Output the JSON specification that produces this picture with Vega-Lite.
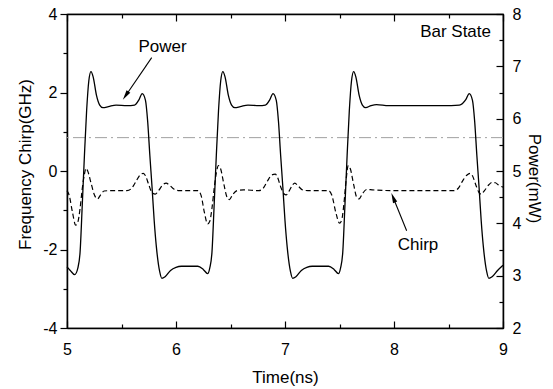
{
  "$schema": "https://vega.github.io/schema/vega-lite/v6.json",
  "width": 436,
  "height": 314,
  "autosize": {"type": "none"},
  "padding": {"left": 67, "top": 14, "right": 50, "bottom": 61},
  "background": "white",
  "config": {
    "view": {"stroke": "black", "strokeWidth": 1.2},
    "axis": {
      "domainColor": "black", "domainWidth": 1.5,
      "tickColor": "black", "tickWidth": 1.2,
      "labelFont": "Liberation Sans", "labelFontSize": 16, "labelColor": "black",
      "titleFont": "Liberation Sans", "titleFontSize": 17, "titleFontWeight": "normal", "titleColor": "black",
      "grid": false
    },
    "text": {"font": "Liberation Sans", "fontSize": 17, "color": "black"}
  },
  "datasets": {
    "power": [
      {"t": 5.00, "p": 3.17}, {"t": 5.03, "p": 3.10}, {"t": 5.07, "p": 3.02}, {"t": 5.10, "p": 3.15},
      {"t": 5.12, "p": 3.45}, {"t": 5.14, "p": 4.35}, {"t": 5.16, "p": 5.30}, {"t": 5.18, "p": 6.15},
      {"t": 5.20, "p": 6.72}, {"t": 5.22, "p": 6.90}, {"t": 5.24, "p": 6.80}, {"t": 5.27, "p": 6.45},
      {"t": 5.30, "p": 6.26}, {"t": 5.33, "p": 6.21}, {"t": 5.38, "p": 6.23}, {"t": 5.45, "p": 6.26},
      {"t": 5.55, "p": 6.25}, {"t": 5.62, "p": 6.26}, {"t": 5.66, "p": 6.36}, {"t": 5.69, "p": 6.48},
      {"t": 5.72, "p": 6.35}, {"t": 5.74, "p": 5.95}, {"t": 5.76, "p": 5.30}, {"t": 5.78, "p": 4.70},
      {"t": 5.80, "p": 4.05}, {"t": 5.82, "p": 3.55}, {"t": 5.85, "p": 3.08}, {"t": 5.87, "p": 2.95},
      {"t": 5.90, "p": 2.98}, {"t": 5.95, "p": 3.10}, {"t": 6.00, "p": 3.16}, {"t": 6.05, "p": 3.18},
      {"t": 6.20, "p": 3.18}, {"t": 6.25, "p": 3.12}, {"t": 6.29, "p": 3.04},
      {"t": 6.31, "p": 3.15}, {"t": 6.33, "p": 3.45}, {"t": 6.35, "p": 4.35}, {"t": 6.37, "p": 5.30},
      {"t": 6.39, "p": 6.15}, {"t": 6.41, "p": 6.72}, {"t": 6.43, "p": 6.90}, {"t": 6.45, "p": 6.80},
      {"t": 6.48, "p": 6.45}, {"t": 6.51, "p": 6.26}, {"t": 6.54, "p": 6.21}, {"t": 6.59, "p": 6.23},
      {"t": 6.66, "p": 6.26}, {"t": 6.76, "p": 6.25}, {"t": 6.82, "p": 6.26}, {"t": 6.86, "p": 6.36},
      {"t": 6.89, "p": 6.48}, {"t": 6.92, "p": 6.35}, {"t": 6.94, "p": 5.95}, {"t": 6.96, "p": 5.30},
      {"t": 6.98, "p": 4.70}, {"t": 7.00, "p": 4.05}, {"t": 7.02, "p": 3.55}, {"t": 7.05, "p": 3.08},
      {"t": 7.07, "p": 2.95}, {"t": 7.10, "p": 2.98}, {"t": 7.15, "p": 3.10}, {"t": 7.20, "p": 3.16},
      {"t": 7.25, "p": 3.18}, {"t": 7.40, "p": 3.18}, {"t": 7.45, "p": 3.12}, {"t": 7.49, "p": 3.04},
      {"t": 7.51, "p": 3.15}, {"t": 7.53, "p": 3.45}, {"t": 7.55, "p": 4.35}, {"t": 7.57, "p": 5.30},
      {"t": 7.59, "p": 6.15}, {"t": 7.61, "p": 6.72}, {"t": 7.63, "p": 6.90}, {"t": 7.65, "p": 6.80},
      {"t": 7.68, "p": 6.45}, {"t": 7.71, "p": 6.26}, {"t": 7.74, "p": 6.21}, {"t": 7.79, "p": 6.25},
      {"t": 7.84, "p": 6.27}, {"t": 7.95, "p": 6.25}, {"t": 8.20, "p": 6.25}, {"t": 8.45, "p": 6.25},
      {"t": 8.60, "p": 6.26}, {"t": 8.66, "p": 6.37}, {"t": 8.69, "p": 6.48}, {"t": 8.72, "p": 6.35},
      {"t": 8.74, "p": 5.95}, {"t": 8.76, "p": 5.30}, {"t": 8.78, "p": 4.70}, {"t": 8.80, "p": 4.05},
      {"t": 8.82, "p": 3.55}, {"t": 8.85, "p": 3.08}, {"t": 8.87, "p": 2.95}, {"t": 8.90, "p": 2.98},
      {"t": 8.95, "p": 3.10}, {"t": 9.00, "p": 3.20}
    ],
    "chirp": [
      {"t": 5.00, "v": -0.50}, {"t": 5.02, "v": -0.62}, {"t": 5.05, "v": -1.05}, {"t": 5.08, "v": -1.38},
      {"t": 5.10, "v": -1.30}, {"t": 5.12, "v": -0.95}, {"t": 5.14, "v": -0.45}, {"t": 5.16, "v": -0.08},
      {"t": 5.175, "v": 0.07}, {"t": 5.19, "v": 0.00}, {"t": 5.22, "v": -0.30}, {"t": 5.25, "v": -0.60},
      {"t": 5.28, "v": -0.71}, {"t": 5.31, "v": -0.60}, {"t": 5.34, "v": -0.51}, {"t": 5.40, "v": -0.50},
      {"t": 5.55, "v": -0.50}, {"t": 5.59, "v": -0.45}, {"t": 5.63, "v": -0.28}, {"t": 5.67, "v": -0.10},
      {"t": 5.70, "v": -0.06}, {"t": 5.72, "v": -0.12}, {"t": 5.75, "v": -0.35}, {"t": 5.78, "v": -0.55},
      {"t": 5.81, "v": -0.59}, {"t": 5.84, "v": -0.50}, {"t": 5.88, "v": -0.35}, {"t": 5.91, "v": -0.31},
      {"t": 5.94, "v": -0.36}, {"t": 5.98, "v": -0.46}, {"t": 6.03, "v": -0.50}, {"t": 6.20, "v": -0.50},
      {"t": 6.23, "v": -0.62}, {"t": 6.26, "v": -1.05}, {"t": 6.29, "v": -1.35}, {"t": 6.31, "v": -1.28},
      {"t": 6.33, "v": -0.95}, {"t": 6.35, "v": -0.45}, {"t": 6.37, "v": -0.05}, {"t": 6.39, "v": 0.14},
      {"t": 6.41, "v": 0.05}, {"t": 6.44, "v": -0.35}, {"t": 6.47, "v": -0.68}, {"t": 6.49, "v": -0.73},
      {"t": 6.52, "v": -0.60}, {"t": 6.56, "v": -0.50}, {"t": 6.62, "v": -0.48}, {"t": 6.76, "v": -0.50},
      {"t": 6.80, "v": -0.44}, {"t": 6.84, "v": -0.25}, {"t": 6.88, "v": -0.10}, {"t": 6.91, "v": -0.08},
      {"t": 6.93, "v": -0.15}, {"t": 6.96, "v": -0.40}, {"t": 6.99, "v": -0.58}, {"t": 7.01, "v": -0.61},
      {"t": 7.04, "v": -0.50}, {"t": 7.07, "v": -0.35}, {"t": 7.09, "v": -0.31}, {"t": 7.12, "v": -0.38},
      {"t": 7.16, "v": -0.48}, {"t": 7.21, "v": -0.50}, {"t": 7.40, "v": -0.50}, {"t": 7.43, "v": -0.62},
      {"t": 7.47, "v": -1.10}, {"t": 7.50, "v": -1.33}, {"t": 7.52, "v": -1.25}, {"t": 7.54, "v": -0.85},
      {"t": 7.56, "v": -0.25}, {"t": 7.58, "v": 0.14}, {"t": 7.60, "v": 0.05}, {"t": 7.63, "v": -0.35},
      {"t": 7.66, "v": -0.68}, {"t": 7.68, "v": -0.71}, {"t": 7.71, "v": -0.58}, {"t": 7.75, "v": -0.47},
      {"t": 7.80, "v": -0.48}, {"t": 8.00, "v": -0.50}, {"t": 8.55, "v": -0.50}, {"t": 8.59, "v": -0.44},
      {"t": 8.63, "v": -0.25}, {"t": 8.67, "v": -0.10}, {"t": 8.70, "v": -0.06}, {"t": 8.72, "v": -0.12},
      {"t": 8.75, "v": -0.35}, {"t": 8.78, "v": -0.55}, {"t": 8.80, "v": -0.59}, {"t": 8.83, "v": -0.50},
      {"t": 8.87, "v": -0.35}, {"t": 8.90, "v": -0.29}, {"t": 8.93, "v": -0.30}, {"t": 8.96, "v": -0.36},
      {"t": 9.00, "v": -0.41}
    ]
  },
  "layer": [
    {
      "data": {"name": "chirp"},
      "mark": {"type": "line", "interpolate": "monotone", "color": "black", "strokeWidth": 1.2, "strokeDash": [5, 3]},
      "encoding": {
        "x": {"field": "t", "type": "quantitative", "scale": {"domain": [5, 9], "nice": false, "zero": false},
          "axis": {"orient": "top", "values": [5, 5.5, 6, 6.5, 7, 7.5, 8, 8.5, 9], "labels": false, "title": null,
            "tickSize": {"condition": {"test": "datum.value % 1 !== 0", "value": -4}, "value": -7}}},
        "y": {"field": "v", "type": "quantitative", "scale": {"domain": [-4, 4], "nice": false, "zero": false},
          "axis": {"orient": "left", "values": [-4, -3, -2, -1, 0, 1, 2, 3, 4],
            "labelExpr": "datum.value % 2 === 0 ? toString(datum.value) : ''",
            "tickSize": {"condition": {"test": "datum.value % 2 !== 0", "value": 4}, "value": 7},
            "labelPadding": 3,
            "title": "Frequency Chirp(GHz)", "titleX": -37, "titleY": 150, "titleBaseline": "alphabetic"}}
      }
    },
    {
      "data": {"values": [{"v": 0.85}]},
      "mark": {"type": "rule", "color": "#a0a0a0", "strokeWidth": 1, "strokeDash": [12, 4, 2, 4]},
      "encoding": {
        "y": {"field": "v", "type": "quantitative", "scale": {"domain": [-4, 4], "nice": false, "zero": false}, "axis": null}
      }
    },
    {
      "data": {"values": [{"t": 5.876, "v": 3.17, "label": "Power"}, {"t": 8.22, "v": -1.885, "label": "Chirp"}]},
      "mark": {"type": "text", "align": "center", "baseline": "middle"},
      "encoding": {
        "x": {"field": "t", "type": "quantitative", "scale": {"domain": [5, 9], "nice": false, "zero": false}, "axis": null},
        "y": {"field": "v", "type": "quantitative", "scale": {"domain": [-4, 4], "nice": false, "zero": false}, "axis": null},
        "text": {"field": "label"}
      }
    },
    {
      "data": {"values": [{"t": 8.89, "v": 3.53, "label": "Bar State"}]},
      "mark": {"type": "text", "align": "right", "baseline": "middle"},
      "encoding": {
        "x": {"field": "t", "type": "quantitative", "scale": {"domain": [5, 9], "nice": false, "zero": false}, "axis": null},
        "y": {"field": "v", "type": "quantitative", "scale": {"domain": [-4, 4], "nice": false, "zero": false}, "axis": null},
        "text": {"field": "label"}
      }
    },
    {
      "data": {"values": [{"t": 5.777, "v": 2.89, "t2": 5.538, "v2": 1.918}, {"t": 8.116, "v": -1.521, "t2": 7.993, "v2": -0.680}]},
      "mark": {"type": "rule", "color": "black", "strokeWidth": 1.1},
      "encoding": {
        "x": {"field": "t", "type": "quantitative", "scale": {"domain": [5, 9], "nice": false, "zero": false}, "axis": null},
        "y": {"field": "v", "type": "quantitative", "scale": {"domain": [-4, 4], "nice": false, "zero": false}, "axis": null},
        "x2": {"field": "t2"},
        "y2": {"field": "v2"}
      }
    },
    {
      "data": {"values": [{"t": 5.538, "v": 1.918}]},
      "mark": {"type": "point", "shape": "M0,-1L0.45,1L-0.45,1Z", "filled": true, "color": "black", "size": 100, "angle": 214, "opacity": 1},
      "encoding": {
        "x": {"field": "t", "type": "quantitative", "scale": {"domain": [5, 9], "nice": false, "zero": false}, "axis": null},
        "y": {"field": "v", "type": "quantitative", "scale": {"domain": [-4, 4], "nice": false, "zero": false}, "axis": null}
      }
    },
    {
      "data": {"values": [{"t": 7.993, "v": -0.680}]},
      "mark": {"type": "point", "shape": "M0,-1L0.45,1L-0.45,1Z", "filled": true, "color": "black", "size": 100, "angle": 338, "opacity": 1},
      "encoding": {
        "x": {"field": "t", "type": "quantitative", "scale": {"domain": [5, 9], "nice": false, "zero": false}, "axis": null},
        "y": {"field": "v", "type": "quantitative", "scale": {"domain": [-4, 4], "nice": false, "zero": false}, "axis": null}
      }
    },
    {
      "data": {"name": "power"},
      "mark": {"type": "line", "interpolate": "monotone", "color": "black", "strokeWidth": 1.3},
      "encoding": {
        "x": {"field": "t", "type": "quantitative", "scale": {"domain": [5, 9], "nice": false, "zero": false},
          "axis": {"orient": "bottom", "values": [5, 5.5, 6, 6.5, 7, 7.5, 8, 8.5, 9],
            "labelExpr": "datum.value % 1 === 0 ? toString(datum.value) : ''",
            "labelFlush": false,
            "tickSize": {"condition": {"test": "datum.value % 1 !== 0", "value": -4}, "value": -7},
            "labelPadding": 20,
            "title": "Time(ns)", "titleY": 54, "titleBaseline": "alphabetic"}},
        "y": {"field": "p", "type": "quantitative", "scale": {"domain": [2, 8], "nice": false, "zero": false},
          "axis": {"orient": "right", "values": [2, 2.5, 3, 3.5, 4, 4.5, 5, 5.5, 6, 6.5, 7, 7.5, 8],
            "labelExpr": "datum.value % 1 === 0 ? toString(datum.value) : ''",
            "tickSize": {"condition": {"test": "datum.value % 1 !== 0", "value": -4}, "value": -7},
            "labelPadding": 16,
            "title": "Power(mW)", "titleX": 25, "titleY": 164, "titleBaseline": "alphabetic"}}
      }
    }
  ],
  "resolve": {"scale": {"y": "independent"}, "axis": {"x": "independent", "y": "independent"}}
}
